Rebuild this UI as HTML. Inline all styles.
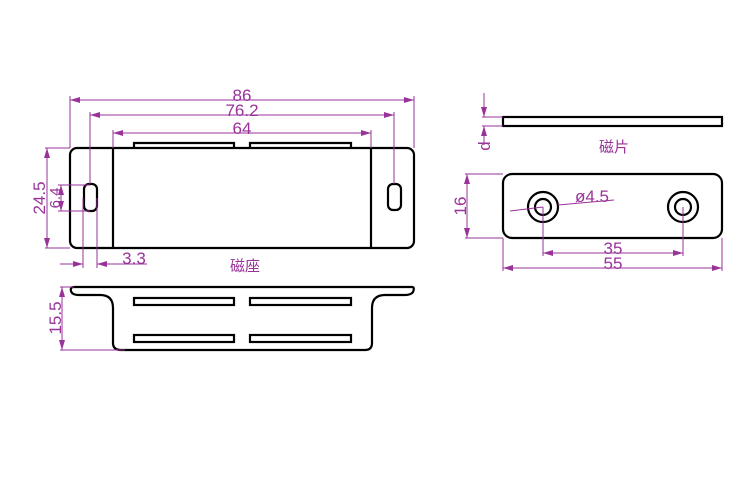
<!DOCTYPE html>
<html><head><meta charset="utf-8"><style>
html,body{margin:0;padding:0;background:#fff;}
svg{display:block}
text{font-family:"Liberation Sans","Noto Sans CJK SC",sans-serif;fill:#993399}
.k{fill:none;stroke:#000;stroke-width:2.2}
.d{stroke:#993399;stroke-width:1;fill:none}
</style></head><body>
<svg width="750" height="500" viewBox="0 0 750 500" xmlns="http://www.w3.org/2000/svg">
<defs>
<marker id="a" viewBox="0 0 10 6" refX="10" refY="3" markerWidth="10" markerHeight="6" orient="auto-start-reverse" markerUnits="userSpaceOnUse"><path d="M0,0 L10,3 L0,6 z" fill="#993399"/></marker>
</defs>
<rect class="k" x="70" y="148" width="344" height="100" rx="7"/>
<line class="k" x1="113" y1="148" x2="113" y2="248"/>
<line class="k" x1="371" y1="148" x2="371" y2="248"/>
<path class="k" d="M134,148 V143 H234 V148 M250,148 V143 H351 V148"/>
<rect class="k" x="84" y="184" width="13" height="27" rx="5"/>
<rect class="k" x="388" y="184" width="13" height="26" rx="5"/>
<g class="d">
<line x1="70" y1="96" x2="70" y2="148"/><line x1="414" y1="96" x2="414" y2="148"/>
<line x1="70" y1="100" x2="414" y2="100" marker-start="url(#a)" marker-end="url(#a)"/>
<line x1="90" y1="112" x2="90" y2="184"/><line x1="394" y1="112" x2="394" y2="184"/>
<line x1="90" y1="115" x2="394" y2="115" marker-start="url(#a)" marker-end="url(#a)"/>
<line x1="113" y1="130" x2="113" y2="148"/><line x1="371" y1="130" x2="371" y2="148"/>
<line x1="113" y1="133" x2="371" y2="133" marker-start="url(#a)" marker-end="url(#a)"/>
<line x1="45" y1="148" x2="70" y2="148"/><line x1="45" y1="248" x2="70" y2="248"/>
<line x1="47" y1="148" x2="47" y2="248" marker-start="url(#a)" marker-end="url(#a)"/>
<line x1="58" y1="185" x2="90" y2="185"/><line x1="58" y1="211" x2="90" y2="211"/>
<line x1="61" y1="185" x2="61" y2="211" marker-start="url(#a)" marker-end="url(#a)"/>
<line x1="83" y1="198" x2="83" y2="268"/><line x1="97" y1="198" x2="97" y2="268"/>
<line x1="60" y1="264" x2="83" y2="264" marker-end="url(#a)"/>
<line x1="147" y1="264" x2="97" y2="264" marker-end="url(#a)"/>
</g>
<text x="242" y="101" font-size="17" text-anchor="middle">86</text>
<text x="242" y="116" font-size="17" text-anchor="middle">76.2</text>
<text x="242" y="134" font-size="17" text-anchor="middle">64</text>
<text x="134" y="264" font-size="17" text-anchor="middle">3.3</text>
<text transform="translate(45,198) rotate(-90)" font-size="17" text-anchor="middle">24.5</text>
<text transform="translate(60,198) rotate(-90)" font-size="15" text-anchor="middle">6.4</text>
<text x="245" y="271" font-size="15" text-anchor="middle">磁座</text>
<path class="k" d="M74,287 H412 Q415,287 413,292 Q411,295 405,295 H385 Q372,295 372,308 V343 Q372,350 365,350 H121 Q113,350 113,343 V308 Q113,295 100,295 H79 Q72,295 71,291 Q70,287 74,287 Z"/>
<rect class="k" x="134" y="298" width="100" height="7"/>
<rect class="k" x="250" y="298" width="101" height="7"/>
<rect class="k" x="134" y="335" width="100" height="7"/>
<rect class="k" x="250" y="335" width="101" height="7"/>
<g class="d">
<line x1="60" y1="287" x2="74" y2="287"/><line x1="60" y1="350" x2="125" y2="350"/>
<line x1="62" y1="287" x2="62" y2="350" marker-start="url(#a)" marker-end="url(#a)"/>
</g>
<text transform="translate(61,318) rotate(-90)" font-size="17" text-anchor="middle">15.5</text>
<rect class="k" x="503" y="117" width="219" height="9"/>
<g class="d">
<line x1="482" y1="117" x2="503" y2="117"/><line x1="482" y1="126" x2="503" y2="126"/>
<line x1="484" y1="93" x2="484" y2="117" marker-end="url(#a)"/>
<line x1="484" y1="145" x2="484" y2="126" marker-end="url(#a)"/>
</g>
<text transform="translate(490,146) rotate(-90)" font-size="17" text-anchor="middle">d</text>
<text x="614" y="152" font-size="15" text-anchor="middle">磁片</text>
<rect class="k" x="503" y="174" width="219" height="64" rx="9"/>
<circle class="k" cx="543" cy="207" r="15"/><circle class="k" cx="543" cy="207" r="8"/>
<circle class="k" cx="683" cy="207" r="15"/><circle class="k" cx="683" cy="207" r="8"/>
<g class="d">
<line x1="510" y1="211" x2="543" y2="207"/>
<line x1="558" y1="205" x2="614" y2="200"/>
<line x1="465" y1="174" x2="503" y2="174"/><line x1="465" y1="238" x2="503" y2="238"/>
<line x1="467" y1="174" x2="467" y2="238" marker-start="url(#a)" marker-end="url(#a)"/>
<line x1="543" y1="207" x2="543" y2="256"/><line x1="683" y1="207" x2="683" y2="256"/>
<line x1="543" y1="253" x2="683" y2="253" marker-start="url(#a)" marker-end="url(#a)"/>
<line x1="503" y1="238" x2="503" y2="271"/><line x1="722" y1="238" x2="722" y2="271"/>
<line x1="503" y1="268" x2="722" y2="268" marker-start="url(#a)" marker-end="url(#a)"/>
</g>
<text x="575" y="202" font-size="17">ø4.5</text>
<text transform="translate(466,206) rotate(-90)" font-size="17" text-anchor="middle">16</text>
<text x="613" y="254" font-size="17" text-anchor="middle">35</text>
<text x="613" y="269" font-size="17" text-anchor="middle">55</text>
</svg>
</body></html>
